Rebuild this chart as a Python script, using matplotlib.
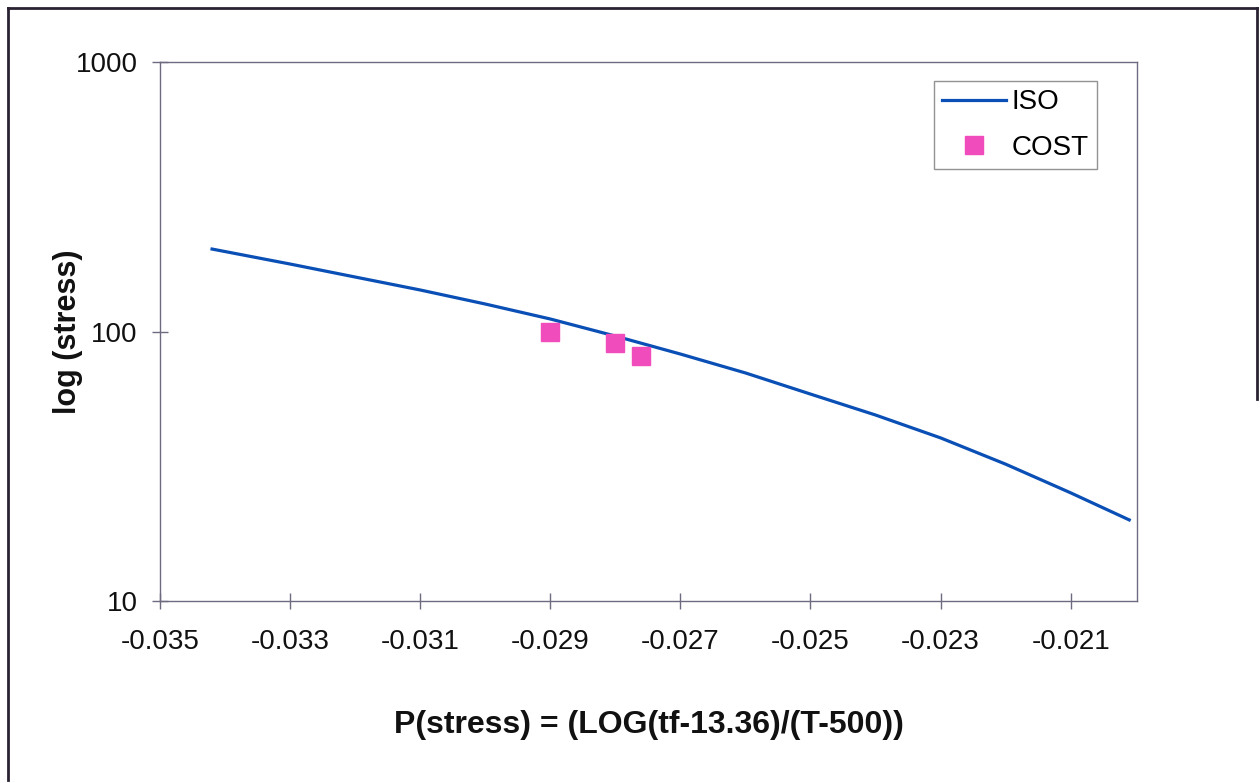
import numpy as np
import matplotlib.pyplot as plt
from matplotlib.lines import Line2D
from matplotlib.ticker import FixedLocator, NullLocator, FuncFormatter

plt.rcParams['font.family'] = ['Liberation Sans', 'DejaVu Sans']

# ISO curve
iso_p = [-0.0342, -0.033, -0.032, -0.031, -0.030, -0.029, -0.028, -0.027,
         -0.026, -0.025, -0.024, -0.023, -0.022, -0.021, -0.0201]
iso_stress = [202.3, 178.0, 159.3, 142.6, 126.5, 111.3, 96.2, 82.5,
              70.2, 58.6, 49.0, 40.3, 32.2, 25.2, 20.0]

# COST data points
cost_p = [-0.0290, -0.0280, -0.0276]
cost_stress = [100, 90.5, 81]

xticks = [-0.035, -0.033, -0.031, -0.029, -0.027, -0.025, -0.023, -0.021]
yticks = [10, 100, 1000]

fig = plt.figure(figsize=(12.6, 7.83), dpi=100)
ax = fig.add_axes([0.127, 0.2324, 0.7754, 0.6884])

ax.plot(iso_p, iso_stress, color='#0a4fb5', lw=2.3, label='ISO')
ax.plot(cost_p, cost_stress, ls='none', marker='s', ms=12.5,
        color='#f04cbb', mec='#f04cbb', label='COST')

ax.set_yscale('log')
ax.set_xlim(-0.035, -0.01998)
ax.set_ylim(10, 1000)
ax.xaxis.set_major_locator(FixedLocator(xticks))
ax.yaxis.set_major_locator(FixedLocator(yticks))
ax.yaxis.set_minor_locator(NullLocator())
ax.xaxis.set_major_formatter(FuncFormatter(lambda v, p: '%.3f' % v))
ax.yaxis.set_major_formatter(FuncFormatter(lambda v, p: '%d' % v))

for s in ax.spines.values():
    s.set_color('#6e6a80')
    s.set_linewidth(1.0)
ax.tick_params(axis='both', direction='inout', length=12, width=1.0,
               color='#6e6a80', labelsize=20, labelcolor='#111111')
ax.tick_params(axis='x', pad=14)
ax.tick_params(axis='y', pad=10)

ax.set_xlabel('P(stress) = (LOG(tf-13.36)/(T-500))', fontsize=23,
              fontweight='bold', labelpad=40, color='#111111')
ax.set_ylabel('log (stress)', fontsize=22, fontweight='bold',
              color='#111111')
ax.yaxis.set_label_coords(-0.079, 0.5)

leg = ax.legend(loc='upper right', bbox_to_anchor=(0.8706, 0.8966),
                bbox_transform=fig.transFigure, borderaxespad=0,
                fontsize=20, frameon=True, fancybox=False, borderpad=0.3,
                handlelength=2.3, handletextpad=0.2, labelspacing=0.7)
leg.get_frame().set_edgecolor('#777777')
leg.get_frame().set_linewidth(1.0)

# scanned page border
bc = '#2a2233'
fig.add_artist(Line2D([0.006, 0.006], [0.004, 0.99], color=bc, lw=2))
fig.add_artist(Line2D([0.006, 0.998], [0.99, 0.99], color=bc, lw=2))
fig.add_artist(Line2D([0.998, 0.998], [0.99, 0.49], color=bc, lw=2))

fig.savefig('out.png', dpi=100)
